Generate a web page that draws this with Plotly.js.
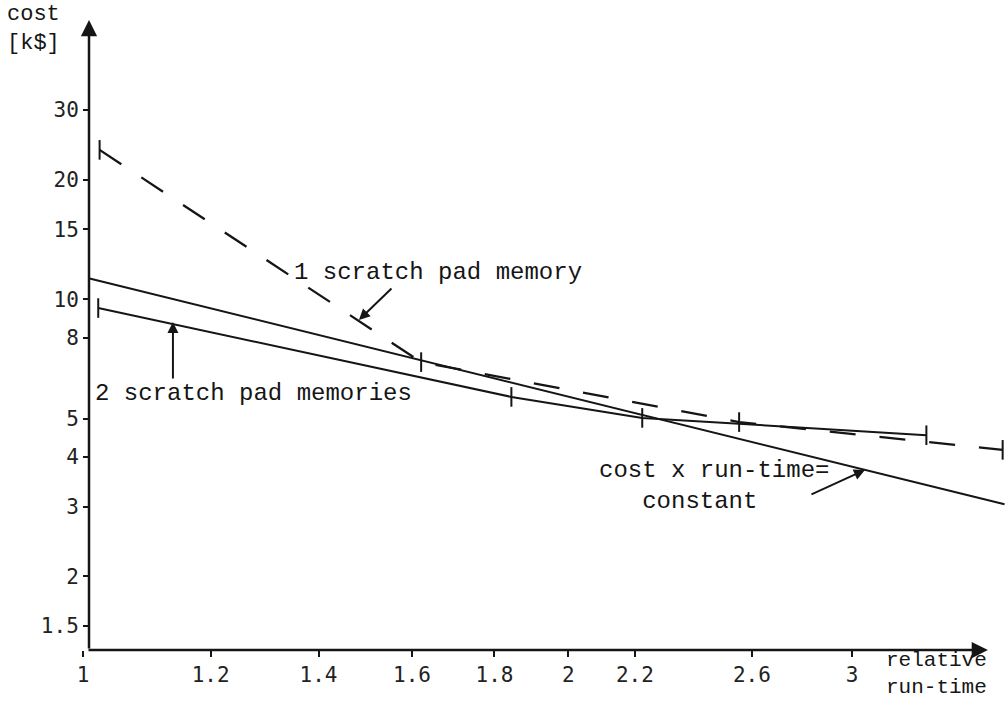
<!DOCTYPE html>
<html>
<head>
<meta charset="utf-8">
<script src="https://cdn.plot.ly/plotly-3.0.1.min.js"></script>
<style>
  html, body { margin: 0; padding: 0; background: #ffffff; }
  #chart { width: 1005px; height: 702px; }
</style>
</head>
<body>
<div id="chart"></div>
<script>
// ---- data (relative run-time vs cost) ----
var runTimeConstant = [1.008, 3.73];
var costConstant    = [11.3, 3.04];

var runTimeOne = [1.024, 1.621, 2.553, 3.72];
var costOne    = [23.8, 6.94, 4.90, 4.17];

var runTimeTwo = [1.022, 1.844, 2.223, 3.336];
var costTwo    = [9.50, 5.67, 5.02, 4.54];

var xTickVals = [1, 1.2, 1.4, 1.6, 1.8, 2, 2.2, 2.6, 3];
var xTickText = ['1', '1.2', '1.4', '1.6', '1.8', '2', '2.2', '2.6', '3'];
var yTickVals = [1.5, 2, 3, 4, 5, 8, 10, 15, 20, 30];
var yTickText = ['1.5', '2', '3', '4', '5', '8', '10', '15', '20', '30'];

var ink = '#151515';
var mono = 'Liberation Mono, Courier New, monospace';
var tickFont = {family: 'DejaVu Sans Mono, monospace', size: 21, color: '#222'};
var NB = '\u00a0';

var traces = [
  {
    x: runTimeConstant, y: costConstant, type: 'scatter', mode: 'lines',
    line: {color: ink, width: 2}, hoverinfo: 'skip'
  },
  {
    x: runTimeOne, y: costOne, type: 'scatter', mode: 'lines+markers',
    line: {color: ink, width: 2.3, dash: '26px,24px'},
    marker: {symbol: 'line-ns', size: 14, line: {color: ink, width: 2}},
    cliponaxis: false, hoverinfo: 'skip'
  },
  {
    x: runTimeTwo, y: costTwo, type: 'scatter', mode: 'lines+markers',
    line: {color: ink, width: 2},
    marker: {symbol: 'line-ns', size: 14, line: {color: ink, width: 2}},
    cliponaxis: false, hoverinfo: 'skip'
  }
];

function label(text, x, y, size) {
  return {text: text, x: x, y: y, xref: 'x', yref: 'y', xanchor: 'left', yanchor: 'middle',
          align: 'left', showarrow: false, font: {family: mono, size: size || 24, color: ink}};
}
function arrow(x, y, ax, ay, w, s) {
  return {text: '', x: x, y: y, ax: ax, ay: ay, xref: 'x', yref: 'y', axref: 'x', ayref: 'y',
          showarrow: true, arrowhead: 2, arrowwidth: w || 2, arrowsize: s || 1.1, arrowcolor: ink,
          standoff: 0, startstandoff: 0};
}

var annotations = [
  // axes drawn as arrows (log coordinates)
  arrow(0.00372, 1.704, 0.00372, 0.1155, 2.5, 1.3),
  arrow(0.5614, 0.1155, 0.0025, 0.1155, 2.5, 1.3),
  // callouts
  label('1 scratch pad memory', 0.1297, 1.0686),
  arrow(0.1712, 0.9476, 0.1923, 1.0308),
  label('2 scratch pad memories', 0.0062, 0.7635),
  arrow(0.0558, 0.9425, 0.0558, 0.7963),
  label('cost x run-time=<br>' + NB + NB + NB + 'constant', 0.3189, 0.5290),
  arrow(0.4851, 0.5694, 0.451, 0.5063),
  // axis titles
  {text: 'cost<br>[k$]', x: -0.0835, y: 1.0, xref: 'paper', yref: 'paper',
   xanchor: 'left', yanchor: 'top', align: 'left', yshift: 19, borderpad: 0, showarrow: false,
   font: {family: mono, size: 22, color: ink}},
  {text: 'relative<br>run-time', x: 0.8698, y: 0, xref: 'paper', yref: 'paper',
   xanchor: 'left', yanchor: 'bottom', align: 'left', yshift: -50, borderpad: 0, showarrow: false,
   font: {family: mono, size: 21, color: ink}}
];

var layout = {
  width: 1005, height: 702,
  margin: {l: 83, r: 0, t: 20, b: 52, pad: 0},
  paper_bgcolor: '#ffffff', plot_bgcolor: '#ffffff',
  showlegend: false,
  xaxis: {
    type: 'log', range: [0, 0.572], showgrid: false, zeroline: false, showline: false,
    tickmode: 'array', tickvals: xTickVals, ticktext: xTickText,
    ticks: 'outside', ticklen: 6, tickwidth: 2, tickcolor: ink,
    tickfont: tickFont, fixedrange: true
  },
  yaxis: {
    type: 'log', range: [0.1155, 1.704], showgrid: false, zeroline: false, showline: false,
    anchor: 'free', position: 0.0065,
    tickmode: 'array', tickvals: yTickVals, ticktext: yTickText,
    ticks: 'outside', ticklen: 6, tickwidth: 2, tickcolor: ink,
    tickfont: tickFont, fixedrange: true
  },
  annotations: annotations
};

Plotly.newPlot('chart', traces, layout, {displayModeBar: false, staticPlot: true});
</script>
</body>
</html>
